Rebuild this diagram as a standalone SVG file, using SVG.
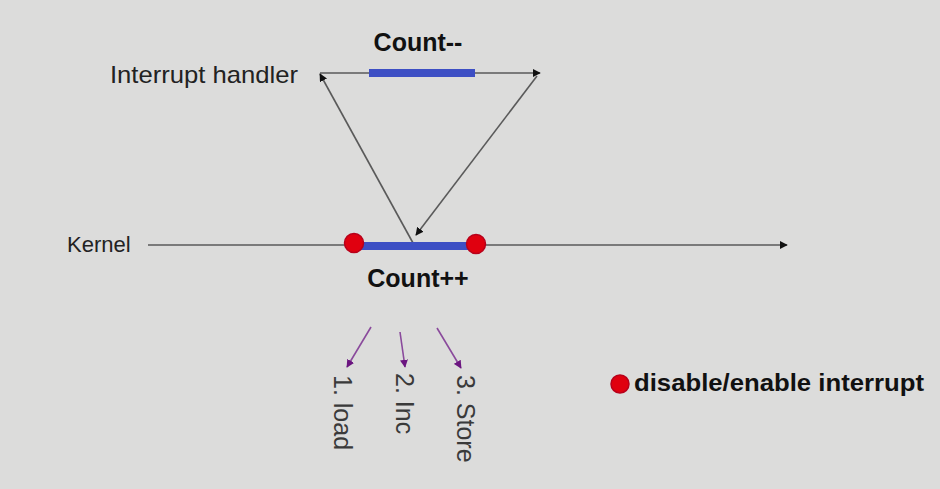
<svg xmlns="http://www.w3.org/2000/svg" width="940" height="489" viewBox="0 0 940 489">
<defs>
<marker id="ah" viewBox="0 0 10 10" refX="9" refY="5" markerWidth="8" markerHeight="8" orient="auto" markerUnits="userSpaceOnUse"><path d="M0,0 L10,5 L0,10 z" fill="#111"/></marker>
<marker id="ahp" viewBox="0 0 10 10" refX="9" refY="5" markerWidth="8" markerHeight="8" orient="auto" markerUnits="userSpaceOnUse"><path d="M0,0 L10,5 L0,10 z" fill="#6b1580"/></marker>
<style>
.ln{stroke:#5a5a5a;stroke-width:1.6;fill:none}
.bar{stroke:#3d4fc4;stroke-width:8;stroke-linecap:butt}
.dot{fill:#e0000f;stroke:#b8001a;stroke-width:1.5}
.pl{stroke:#8a4a9c;stroke-width:1.6;fill:none}
.lbl{font-family:"Liberation Sans",Arial,sans-serif;fill:#222}
.bold{font-family:"Liberation Sans",Arial,sans-serif;font-weight:bold;fill:#111}
.step{font-family:"Liberation Sans",Arial,sans-serif;fill:#3a3a3a;font-size:25px}
</style>
</defs>
<rect width="940" height="489" fill="#dcdcdb"/>
<g id="connectors">
<line class="ln" x1="148" y1="245" x2="787" y2="245" marker-end="url(#ah)"/>
<line class="ln" x1="320" y1="73" x2="540" y2="73" marker-end="url(#ah)"/>
<line class="ln" x1="413" y1="243" x2="320" y2="74" marker-end="url(#ah)"/>
<line class="ln" x1="537" y1="76" x2="416" y2="235" marker-end="url(#ah)"/>
<line class="pl" x1="371" y1="327" x2="347" y2="367" marker-end="url(#ahp)"/>
<line class="pl" x1="400" y1="332" x2="405" y2="367" marker-end="url(#ahp)"/>
<line class="pl" x1="437" y1="328" x2="461" y2="368" marker-end="url(#ahp)"/>
</g>
<g id="interrupt-handler">
<text class="lbl" x="110" y="83" font-size="24" textLength="188" lengthAdjust="spacingAndGlyphs">Interrupt handler</text>
<line class="bar" x1="369" y1="73" x2="475" y2="73"/>
<text class="bold" x="418" y="51" font-size="25" text-anchor="middle">Count--</text>
</g>
<g id="kernel">
<text class="lbl" x="67" y="252" font-size="22">Kernel</text>
<line class="bar" x1="356" y1="246" x2="475" y2="246"/>
<circle class="dot" cx="354" cy="243" r="9.5"/>
<circle class="dot" cx="476" cy="244" r="9.5"/>
<text class="bold" x="418" y="287" font-size="25" text-anchor="middle">Count++</text>
</g>
<g id="steps">
<text class="step" transform="translate(334,375) rotate(90)">1. load</text>
<text class="step" transform="translate(396,373) rotate(90)">2. Inc</text>
<text class="step" transform="translate(457,375) rotate(90)">3. Store</text>
</g>
<g id="legend">
<circle class="dot" cx="620" cy="384" r="9"/>
<text class="bold" x="634" y="391" font-size="24" textLength="290" lengthAdjust="spacingAndGlyphs">disable/enable interrupt</text>
</g>
</svg>
